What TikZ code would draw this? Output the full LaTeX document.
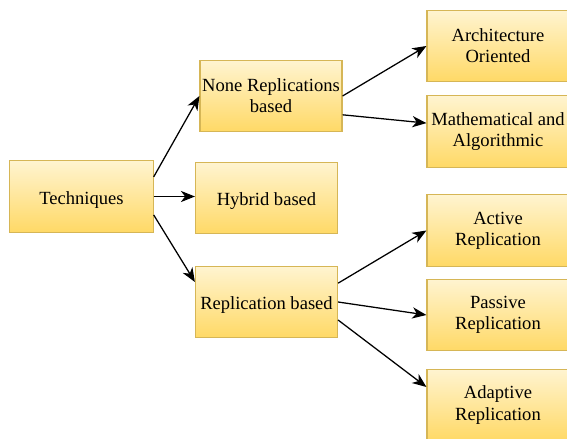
\documentclass[tikz,border=0pt]{standalone}
\usepackage{fontspec}
\setmainfont{Liberation Serif}
\usetikzlibrary{arrows.meta}

\definecolor{boxtop}{HTML}{FFF4D0}
\definecolor{boxbottom}{HTML}{FFD966}
\definecolor{boxline}{HTML}{D6B656}

\begin{document}
\begin{tikzpicture}[x=0.025cm, y=-0.025cm,
    block/.style={draw=boxline, line width=0.8pt, top color=boxtop, bottom color=boxbottom,
        minimum width=3.55cm, minimum height=1.78cm, align=center, inner sep=1pt,
        font=\fontsize{13.2}{15}\selectfont, execute at begin node={\rule{0pt}{13.5pt}}},
    link/.style={-{Stealth[length=10pt,width=8pt,inset=3pt]}, line width=0.9pt}]
    % Page size
    \useasboundingbox (0,0) rectangle (567,439);
    % Draw boxes
    \node [block, minimum width=3.58cm] (tech) at (81.5,196.5) {Techniques};
    \node [block] (none) at (271,96) {None Replications\\based};
    \node [block] (hybrid) at (266.5,198) {Hybrid based};
    \node [block] (repl) at (266.5,302) {Replication based};
    \node [block] (arch) at (498,46) {Architecture\\Oriented};
    \node [block] (math) at (498,131.5) {Mathematical and\\Algorithmic};
    \node [block] (active) at (498,230.5) {Active\\Replication};
    \node [block] (passive) at (498,315) {Passive\\Replication};
    \node [block] (adaptive) at (498,405) {Adaptive\\Replication};
    % Draw arrows
    \draw [link] ([yshift=0.49cm]tech.east) -- (none.west);
    \draw [link] (tech.east) -- (tech.east -| hybrid.west);
    \draw [link] ([yshift=-0.46cm]tech.east) -- ([yshift=0.5cm]repl.west);
    \draw [link] (none.east) -- (arch.west);
    \draw [link] ([yshift=-0.47cm]none.east) -- ([yshift=0.21cm]math.west);
    \draw [link] ([yshift=0.47cm]repl.east) -- (active.west);
    \draw [link] (repl.east) -- (passive.west);
    \draw [link] ([yshift=-0.45cm]repl.east) -- ([yshift=0.45cm]adaptive.west);
\end{tikzpicture}
\end{document}
